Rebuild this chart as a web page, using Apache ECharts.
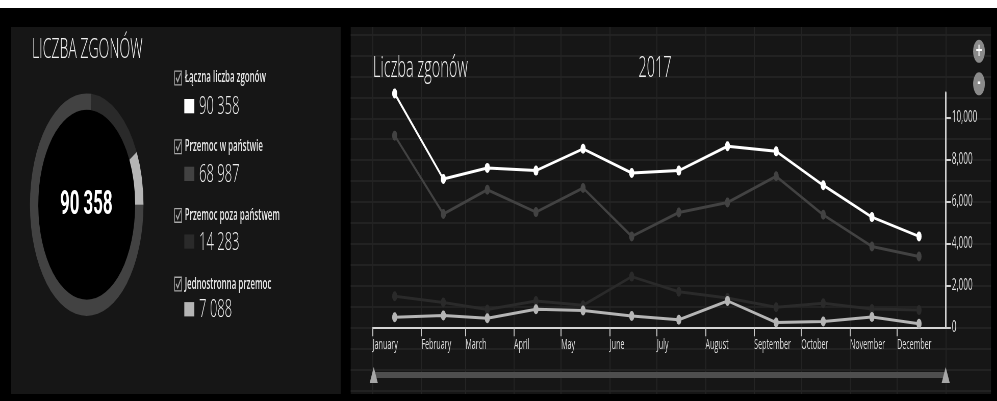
<!DOCTYPE html>
<html>
<head>
<meta charset="utf-8">
<title>Liczba zgonów 2017</title>
<script src="https://cdn.jsdelivr.net/npm/echarts@6.0.0/dist/echarts.min.js"></script>
<style>
    html, body { margin: 0; padding: 0; background: #fff; overflow: hidden; }
    /* the reference is squeezed sideways: draw it wide, then squeeze the whole chart */
    #chart { width: 1955px; height: 401px; transform: scaleX(0.51); transform-origin: 0 0; }
</style>
</head>
<body>
<div id="chart"></div>
<script>
    const year = 2017;
    const months = ['January', 'February', 'March', 'April', 'May', 'June',
        'July', 'August', 'September', 'October', 'November', 'December'];
    const seriesNames = ['Łączna liczba zgonów', 'Przemoc w państwie', 'Przemoc poza państwem', 'Jednostronna przemoc'];
    const totals = [90358, 68987, 14283, 7088];
    const totalByMonth = [11160, 7080, 7610, 7480, 8520, 7370, 7480, 8640, 8400, 6780, 5260, 4340];
    const stateByMonth = [9150, 5410, 6570, 5500, 6650, 4340, 5480, 5960, 7210, 5370, 3860, 3380];
    const nonStateByMonth = [1480, 1180, 850, 1250, 1050, 2420, 1700, 1400, 960, 1150, 870, 820];
    const oneSidedByMonth = [480, 560, 430, 860, 800, 540, 360, 1260, 230, 280, 490, 170];
    const yMax = 11200;
    const yStep = 2000;

    const colors = ['#ffffff', '#424242', '#2a2a2a', '#b5b5b5'];

    // measured x on the squeezed picture -> x on the wide canvas
    const SQ = 0.51;
    const W = 1955;
    const sx = x => x / SQ;

    const fmtSpace = n => String(n).replace(/\B(?=(\d{3})+(?!\d))/g, ' ');
    const toPoints = arr => arr.map((v, i) => [new Date(year, i, 15).getTime(), v]);

    const xMin = new Date(year, 0, 1).getTime();
    const xMax = new Date(year + 1, 0, 1).getTime();
    const plotLeft = sx(372.7), plotRight = W - sx(945.7);

    let chart = echarts.init(document.getElementById('chart'));

    // legend values under the names
    let legendRows = [];
    seriesNames.forEach((name, i) => {
        let cy = 72.5 + i * 67.7 + 33.5;
        legendRows.push({
            type: 'rect', z: 5,
            shape: {x: sx(184.3), y: cy - 7, width: sx(194.3) - sx(184.3), height: 14.3},
            style: {fill: colors[i]}
        });
        legendRows.push({
            type: 'text', z: 5, x: sx(199), y: cy + 1,
            style: {text: fmtSpace(totals[i]), fill: '#eeeeee', fontFamily: 'Open Sans', fontWeight: 300, fontSize: 25.5, verticalAlign: 'middle'}
        });
    });

    const checkbox = 'path://M0,0H16V16H0Z M1.4,1.4V14.6H14.6V1.4Z M3,8.5L4.6,7L7.2,10.2L12.8,2.2L14.2,3.6L7.3,13.4Z';

    chart.setOption({
        animation: false,
        backgroundColor: '#000',
        graphic: [
            {type: 'rect', z: -10, shape: {x: 0, y: 0, width: W, height: 8}, style: {fill: '#fff'}},
            {type: 'rect', z: -10, shape: {x: sx(11), y: 27, width: sx(340.7) - sx(11), height: 367}, style: {fill: '#161616'}},
            {type: 'rect', z: -10, shape: {x: sx(350.7), y: 27, width: sx(991) - sx(350.7), height: 367}, style: {fill: '#161616'}},
            {
                type: 'text', z: 5, x: sx(32), y: 50.5,
                style: {text: 'LICZBA ZGONÓW', fill: '#f0f0f0', fontFamily: 'Open Sans', fontWeight: 300, fontSize: 27.5, verticalAlign: 'middle'}
            },
            {type: 'circle', z: 1, shape: {cx: sx(86.7), cy: 204.7, r: 95}, style: {fill: '#000'}},
            {
                type: 'text', z: 5, x: sx(86.3), y: 206,
                style: {text: fmtSpace(totals[0]), fill: '#fff', fontFamily: 'Roboto', fontWeight: 'bold', fontSize: 33, align: 'center', verticalAlign: 'middle'}
            },
            ...legendRows,
            {
                type: 'text', z: 5, x: sx(373), y: 69,
                style: {text: 'Liczba zgonów', fill: '#f0f0f0', fontFamily: 'Open Sans', fontWeight: 300, fontSize: 28.5, verticalAlign: 'middle'}
            },
            {
                type: 'text', z: 5, x: sx(655), y: 69,
                style: {text: String(year), fill: '#f0f0f0', fontFamily: 'Open Sans', fontWeight: 300, fontSize: 28.5, align: 'center', verticalAlign: 'middle'}
            },
            {type: 'circle', z: 5, shape: {cx: sx(979), cy: 51.3, r: 11.5}, style: {fill: '#8a8a8a'}},
            {
                type: 'text', z: 6, x: sx(979), y: 51.5,
                style: {text: '+', fill: '#fff', fontFamily: 'DejaVu Sans', fontWeight: 'bold', fontSize: 17, align: 'center', verticalAlign: 'middle'}
            },
            {type: 'circle', z: 5, shape: {cx: sx(979), cy: 83.8, r: 11.5}, style: {fill: '#8a8a8a'}},
            {
                type: 'text', z: 6, x: sx(979), y: 83.5,
                style: {text: '-', fill: '#fff', fontFamily: 'DejaVu Sans', fontWeight: 'bold', fontSize: 17, align: 'center', verticalAlign: 'middle'}
            }
        ],
        legend: {
            orient: 'vertical',
            left: sx(171.7),
            top: 65,
            itemWidth: 16,
            itemHeight: 15,
            itemGap: 52.7,
            icon: checkbox,
            itemStyle: {color: '#a8a8a8', borderWidth: 0},
            textStyle: {color: '#e6e6e6', fontSize: 15.5, fontWeight: 600, fontFamily: 'Open Sans', lineHeight: 15},
            data: seriesNames
        },
        grid: [
            {left: plotLeft, right: plotRight, top: 92.7, bottom: 401 - 327.3, outerBoundsMode: 'none'},
            // background: month lines over the whole panel height
            {left: plotLeft, right: plotRight, top: 27, bottom: 7, outerBoundsMode: 'none'},
            // background: horizontal lines over the whole panel width
            {left: sx(350.7), right: W - sx(991), top: 34.5, bottom: 10.5, outerBoundsMode: 'none'}
        ],
        xAxis: [
            {
                type: 'time', gridIndex: 0, min: xMin, max: xMax, splitNumber: 12,
                axisLine: {lineStyle: {color: '#d6d6d6', width: 2}},
                axisTick: {show: true, length: 9, lineStyle: {color: '#c8c8c8', width: 2}},
                axisLabel: {
                    color: '#dcdcdc', fontSize: 14, fontFamily: 'Open Sans', align: 'left', margin: 11,
                    showMinLabel: true, showMaxLabel: false, hideOverlap: false,
                    formatter: v => {
                        let d = new Date(v);
                        return d.getFullYear() === year ? months[d.getMonth()] : '';
                    }
                },
                splitLine: {show: false}
            },
            {
                type: 'time', gridIndex: 1, min: xMin, max: xMax, splitNumber: 12,
                axisLine: {show: false}, axisTick: {show: false}, axisLabel: {show: false},
                splitLine: {show: true, lineStyle: {color: '#242424', width: 2}}
            },
            {type: 'value', gridIndex: 2, min: 0, max: 1, show: false}
        ],
        yAxis: [
            {
                type: 'value', gridIndex: 0, position: 'right', min: 0, max: yMax, interval: yStep,
                axisLine: {show: true, lineStyle: {color: '#d0d0d0', width: 3}},
                axisTick: {show: true, length: 10, lineStyle: {color: '#d0d0d0', width: 2}},
                axisLabel: {
                    color: '#dcdcdc', fontSize: 16, fontFamily: 'Open Sans', margin: 12, showMaxLabel: false,
                    formatter: v => v.toLocaleString('en-US')
                },
                splitLine: {show: false}
            },
            {type: 'value', gridIndex: 1, show: false},
            {
                type: 'value', gridIndex: 2, min: -3000, max: 14000, interval: 1000,
                axisLine: {show: false}, axisTick: {show: false}, axisLabel: {show: false},
                splitLine: {show: true, lineStyle: {color: '#222222', width: 2}}
            }
        ],
        dataZoom: [{
            type: 'slider', xAxisIndex: 0, filterMode: 'none',
            left: plotLeft, right: plotRight, top: 372, height: 6,
            showDetail: false, showDataShadow: false, brushSelect: false, moveHandleSize: 0,
            backgroundColor: '#333', fillerColor: '#4e4e4e', borderColor: 'transparent',
            handleIcon: 'path://M0,0L10,0L5,10Z', handleSize: 16,
            handleStyle: {color: '#a6a6a6', borderWidth: 0},
            dataBackground: {lineStyle: {opacity: 0}, areaStyle: {opacity: 0}},
            selectedDataBackground: {lineStyle: {opacity: 0}, areaStyle: {opacity: 0}},
            emphasis: {handleStyle: {color: '#a6a6a6', borderWidth: 0}}
        }],
        series: [
            {
                name: seriesNames[2], type: 'line', data: toPoints(nonStateByMonth),
                symbol: 'circle', symbolSize: 10, color: colors[2], lineStyle: {width: 3}
            },
            {
                name: seriesNames[1], type: 'line', data: toPoints(stateByMonth),
                symbol: 'circle', symbolSize: 10, color: colors[1], lineStyle: {width: 3}
            },
            {
                name: seriesNames[3], type: 'line', data: toPoints(oneSidedByMonth),
                symbol: 'circle', symbolSize: 10, color: colors[3], lineStyle: {width: 3}
            },
            {
                name: seriesNames[0], type: 'line', data: toPoints(totalByMonth),
                symbol: 'circle', symbolSize: 10, color: colors[0], lineStyle: {width: 3}
            },
            {
                type: 'pie', center: [sx(86.7), 204.7], radius: [95, 111.3],
                startAngle: 0, silent: true, label: {show: false}, labelLine: {show: false},
                emphasis: {scale: false},
                data: [
                    {name: seriesNames[1], value: totals[1], itemStyle: {color: colors[1]}},
                    {name: seriesNames[2], value: totals[2], itemStyle: {color: colors[2]}},
                    {name: seriesNames[3], value: totals[3], itemStyle: {color: colors[3]}}
                ]
            }
        ]
    });
</script>
</body>
</html>
